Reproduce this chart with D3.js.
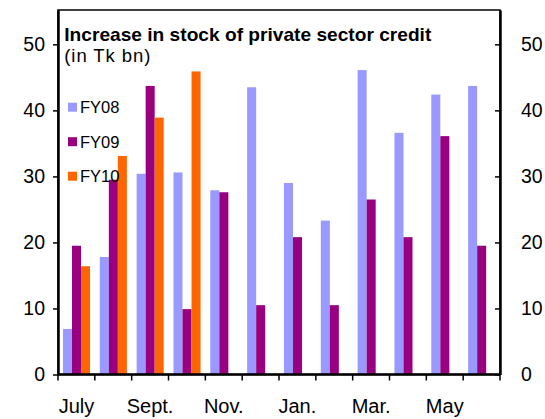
<!DOCTYPE html>
<html>
<head>
<meta charset="utf-8">
<script src="https://cdn.jsdelivr.net/npm/d3@7"></script>
<style>
  html, body { margin: 0; padding: 0; background: #fff; overflow: hidden; }
  svg { display: block; }
  text { font-family: "Liberation Sans", Arial, sans-serif; fill: #000; }
</style>
</head>
<body>
<div id="chart"></div>
<script>
const months = ["July", "Aug.", "Sept.", "Oct.", "Nov.", "Dec.", "Jan.", "Feb.", "Mar.", "Apr.", "May", "June"];
const monthLabels = ["July", "", "Sept.", "", "Nov.", "", "Jan.", "", "Mar.", "", "May", ""];
const seriesNames = ["FY08", "FY09", "FY10"];
const fy08 = [6.9, 17.8, 30.4, 30.6, 27.9, 43.5, 29.0, 23.3, 46.1, 36.6, 42.4, 43.7];
const fy09 = [19.5, 29.5, 43.7, 9.9, 27.6, 10.5, 20.8, 10.5, 26.5, 20.8, 36.1, 19.5];
const fy10 = [16.4, 33.1, 38.9, 45.9, null, null, null, null, null, null, null, null];
const yTicks = [0, 10, 20, 30, 40, 50];

const width = 545, height = 419;
const margin = { top: 10, right: 45, bottom: 44.5, left: 58 };
const innerWidth = width - margin.left - margin.right;
const innerHeight = height - margin.top - margin.bottom;

const svg = d3.select("#chart").append("svg")
    .attr("width", width)
    .attr("height", height);
const g = svg.append("g")
    .attr("transform", `translate(${margin.left},${margin.top})`);

const x0 = d3.scaleBand().domain(months).range([0, innerWidth]).paddingInner(0);
const x1 = d3.scaleBand().domain(seriesNames)
    .range([x0.bandwidth() * 0.135, x0.bandwidth() * 0.87]);
const y = d3.scaleLinear().domain([0, 55.2]).range([innerHeight, 0]);
const color = d3.scaleOrdinal().domain(seriesNames).range(["#9999ff", "#990080", "#ff6600"]);

const seriesData = [fy08, fy09, fy10];
const rows = [];
seriesData.forEach((vals, si) => {
  vals.forEach((v, mi) => {
    if (v != null) rows.push({ month: months[mi], series: seriesNames[si], value: v });
  });
});

g.selectAll(".bar")
  .data(rows)
  .enter().append("rect")
  .attr("class", "bar")
  .attr("x", d => x0(d.month) + x1(d.series))
  .attr("width", x1.bandwidth())
  .attr("y", d => y(d.value))
  .attr("height", d => y(0) - y(d.value))
  .attr("fill", d => color(d.series));

// frame
g.append("rect")
  .attr("width", innerWidth)
  .attr("height", innerHeight)
  .attr("fill", "none")
  .attr("stroke", "#000")
  .attr("stroke-width", 1.5);

const yLeft = g.append("g")
  .call(d3.axisLeft(y).tickValues(yTicks).tickSizeInner(5).tickSizeOuter(0).tickPadding(8));
const yRight = g.append("g")
  .attr("transform", `translate(${innerWidth},0)`)
  .call(d3.axisRight(y).tickValues(yTicks).tickSizeInner(-5).tickSizeOuter(0).tickPadding(21));
[yLeft, yRight].forEach(a => {
  a.select(".domain").attr("stroke-width", 2.5);
  a.selectAll(".tick line").attr("stroke-width", 1.5);
  a.selectAll("text").style("font-size", "19.5px").attr("font-family", null);
});

// x axis: ticks between categories
const xAxis = g.append("g").attr("transform", `translate(0,${innerHeight})`);
xAxis.append("line")
  .attr("x1", 0).attr("x2", innerWidth)
  .attr("stroke", "#000").attr("stroke-width", 2.5);
xAxis.selectAll(".xtick")
  .data(months.concat(["end"]))
  .enter().append("line")
  .attr("x1", (d, i) => i * x0.step())
  .attr("x2", (d, i) => i * x0.step())
  .attr("y1", 0).attr("y2", 6)
  .attr("stroke", "#000").attr("stroke-width", 1.5);
xAxis.selectAll(".xlabel")
  .data(months.filter((d, i) => monthLabels[i] !== ""))
  .enter().append("text")
  .attr("x", d => x0(d) + x0.bandwidth() / 2)
  .attr("y", 38)
  .attr("text-anchor", "middle")
  .style("font-size", "20px")
  .text(d => monthLabels[months.indexOf(d)]);

// title
g.append("text")
  .attr("x", 6.3).attr("y", 31)
  .attr("textLength", 367).attr("lengthAdjust", "spacingAndGlyphs")
  .style("font-size", "18.5px").style("font-weight", "bold")
  .text("Increase in stock of private sector credit");
g.append("text")
  .attr("x", 6.3).attr("y", 51.7)
  .attr("textLength", 86).attr("lengthAdjust", "spacing")
  .style("font-size", "18.5px")
  .text("(in Tk bn)");

// legend
const legend = g.selectAll(".legend")
  .data(seriesNames)
  .enter().append("g")
  .attr("transform", (d, i) => `translate(10,${92.7 + i * 34.5})`);
legend.append("rect")
  .attr("width", 9).attr("height", 9)
  .attr("fill", d => color(d));
legend.append("text")
  .attr("x", 12).attr("y", 10.3)
  .style("font-size", "16.5px")
  .text(d => d);
</script>
</body>
</html>
